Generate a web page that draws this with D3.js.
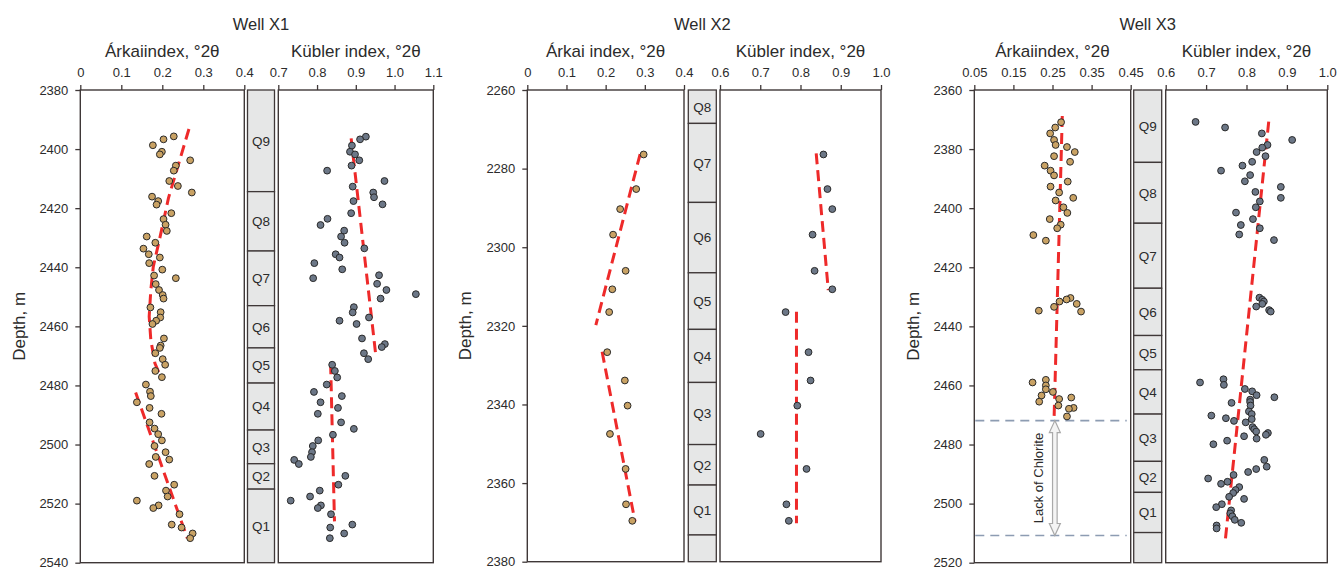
<!DOCTYPE html>
<html>
<head>
<meta charset="utf-8">
<script src="https://cdn.jsdelivr.net/npm/d3@7"></script>
<style>
  html, body { margin: 0; padding: 0; background: #ffffff; }
  svg { display: block; }
  text { font-family: "Liberation Sans", Arial, sans-serif; fill: #2b2b2b; }
</style>
</head>
<body>
<script>
// ---------- Well X1 ----------
const x1Arkai = [[2395.7,0.228],[2396.7,0.203],[2398.7,0.177],[2400.9,0.199],[2401.8,0.194],[2403.8,0.268],[2405.6,0.233],[2407.3,0.228],[2410.8,0.217],[2412.5,0.238],[2414.7,0.272],[2416.1,0.175],[2417.6,0.190],[2418.8,0.186],[2421.7,0.222],[2423.7,0.203],[2425.6,0.208],[2427.7,0.211],[2429.6,0.162],[2431.7,0.183],[2433.7,0.154],[2435.6,0.167],[2436.7,0.194],[2438.6,0.168],[2440.8,0.200],[2442.8,0.180],[2443.7,0.233],[2445.7,0.184],[2447.7,0.192],[2449.4,0.201],[2450.6,0.203],[2453.6,0.171],[2455.2,0.196],[2457.0,0.195],[2458.1,0.185],[2459.2,0.176],[2464.1,0.204],[2466.5,0.196],[2467.3,0.194],[2469.1,0.183],[2471.1,0.201],[2473.0,0.207],[2475.1,0.183],[2477.2,0.199],[2479.7,0.160],[2482.1,0.170],[2483.6,0.172],[2485.7,0.138],[2487.6,0.169],[2489.6,0.198],[2492.5,0.169],[2494.6,0.181],[2496.5,0.190],[2498.6,0.199],[2500.5,0.181],[2502.6,0.208],[2504.2,0.184],[2505.1,0.217],[2506.6,0.168],[2510.6,0.181],[2513.6,0.229],[2515.6,0.209],[2517.6,0.213],[2519.0,0.138],[2520.6,0.191],[2521.5,0.178],[2523.6,0.242],[2527.1,0.223],[2528.1,0.247],[2530.1,0.274],[2531.7,0.268]];
const x1Kubler = [[2395.8,0.926],[2396.7,0.911],[2398.8,0.890],[2400.9,0.885],[2401.8,0.898],[2403.8,0.909],[2405.6,0.889],[2407.3,0.826],[2410.8,0.974],[2412.7,0.892],[2414.7,0.945],[2416.3,0.947],[2417.6,0.894],[2418.7,0.969],[2421.7,0.888],[2423.6,0.827],[2425.7,0.809],[2427.6,0.870],[2429.6,0.862],[2431.7,0.871],[2433.6,0.922],[2435.6,0.848],[2436.7,0.858],[2438.6,0.793],[2440.7,0.865],[2442.7,0.960],[2443.7,0.790],[2445.6,0.955],[2447.7,0.979],[2449.1,1.055],[2450.6,0.964],[2453.5,0.895],[2455.3,0.892],[2457.0,0.934],[2458.1,0.858],[2459.2,0.902],[2464.1,0.916],[2466.0,0.975],[2467.0,0.967],[2469.1,0.921],[2471.1,0.932],[2473.0,0.839],[2475.1,0.846],[2477.3,0.852],[2479.7,0.825],[2482.2,0.792],[2483.6,0.864],[2485.7,0.809],[2487.6,0.854],[2489.6,0.802],[2492.5,0.862],[2494.7,0.895],[2496.7,0.841],[2498.6,0.803],[2500.5,0.789],[2502.6,0.787],[2504.2,0.784],[2505.2,0.741],[2506.6,0.753],[2510.6,0.873],[2513.6,0.855],[2515.6,0.807],[2517.6,0.782],[2519.0,0.732],[2520.6,0.810],[2521.5,0.802],[2523.6,0.836],[2527.1,0.891],[2528.1,0.834],[2530.1,0.870],[2531.7,0.833]];
const x1ArkaiTrend = [
  [[2393.2,0.265],[2416.6,0.215],[2430.7,0.193],[2439.8,0.178],[2447.7,0.172],[2456.7,0.168],[2464.6,0.172],[2472.5,0.182],[2478.0,0.199]],
  [[2482.4,0.135],[2531.7,0.261]]
];
const x1KublerTrend = [
  [[2396.4,0.888],[2469.1,0.951]],
  [[2472.5,0.835],[2526.0,0.845]]
];
const x1ZoneTops = [2380, 2414.4, 2434.5, 2453.0, 2467.3, 2479.2, 2495.1, 2506.5, 2515.1, 2540];
const x1ZoneNames = ["Q9","Q8","Q7","Q6","Q5","Q4","Q3","Q2","Q1"];
const x1DepthTicks = [2380, 2400, 2420, 2440, 2460, 2480, 2500, 2520, 2540];
const x1ArkaiTicks = [0, 0.1, 0.2, 0.3, 0.4];
const x1ArkaiTickLabels = ["0", "0.1", "0.2", "0.3", "0.4"];
const x1KublerTicks = [0.7, 0.8, 0.9, 1.0, 1.1];
const x1KublerTickLabels = ["0.7", "0.8", "0.9", "1.0", "1.1"];

// ---------- Well X2 ----------
const x2Arkai = [[2276.4,0.297],[2285.2,0.278],[2290.3,0.237],[2296.8,0.219],[2306.0,0.251],[2310.7,0.217],[2316.5,0.209],[2326.7,0.204],[2333.9,0.249],[2340.3,0.256],[2347.5,0.211],[2356.4,0.251],[2365.4,0.252],[2369.6,0.268]];
const x2Kubler = [[2276.4,0.857],[2285.2,0.867],[2290.3,0.879],[2296.8,0.830],[2306.0,0.835],[2310.7,0.879],[2316.5,0.763],[2326.7,0.820],[2333.9,0.825],[2340.3,0.792],[2347.5,0.701],[2356.4,0.815],[2365.4,0.765],[2369.6,0.771]];
const x2ArkaiTrend = [
  [[2276.3,0.288],[2319.8,0.175]],
  [[2326.6,0.191],[2369.8,0.275]]
];
const x2KublerTrend = [
  [[2276.1,0.839],[2310.9,0.869]],
  [[2316.4,0.790],[2370.2,0.790]]
];
const x2ZoneTops = [2260, 2268.5, 2288.6, 2306.5, 2320.9, 2334.4, 2350.2, 2360.5, 2373.2, 2380];
const x2ZoneNames = ["Q8","Q7","Q6","Q5","Q4","Q3","Q2","Q1",""];
const x2DepthTicks = [2260, 2280, 2300, 2320, 2340, 2360, 2380];
const x2ArkaiTicks = [0, 0.1, 0.2, 0.3, 0.4];
const x2ArkaiTickLabels = ["0", "0.1", "0.2", "0.3", "0.4"];
const x2KublerTicks = [0.6, 0.7, 0.8, 0.9, 1.0];
const x2KublerTickLabels = ["0.6", "0.7", "0.8", "0.9", "1.0"];

// ---------- Well X3 ----------
const x3Arkai = [[2370.9,0.272],[2372.7,0.257],[2374.7,0.244],[2376.9,0.254],[2378.6,0.258],[2379.3,0.287],[2381.0,0.307],[2382.4,0.254],[2384.3,0.295],[2385.6,0.230],[2387.3,0.245],[2388.9,0.254],[2391.0,0.289],[2392.7,0.245],[2394.7,0.267],[2396.5,0.303],[2397.4,0.258],[2399.7,0.278],[2401.6,0.288],[2403.7,0.243],[2405.6,0.271],[2406.8,0.262],[2409.1,0.201],[2411.0,0.233],[2430.4,0.296],[2430.9,0.286],[2431.6,0.268],[2432.4,0.312],[2433.4,0.254],[2434.7,0.215],[2435.0,0.323],[2458.1,0.233],[2459.0,0.199],[2460.0,0.233],[2461.3,0.233],[2462.2,0.251],[2463.4,0.222],[2464.1,0.298],[2464.6,0.267],[2465.5,0.216],[2466.8,0.265],[2467.6,0.304],[2467.9,0.292],[2470.5,0.287]];
const x3Kubler = [[2370.8,0.674],[2372.7,0.747],[2374.7,0.838],[2376.9,0.913],[2378.6,0.852],[2379.5,0.839],[2381.0,0.825],[2382.4,0.847],[2384.3,0.814],[2385.6,0.790],[2387.3,0.737],[2388.8,0.809],[2390.9,0.796],[2392.8,0.885],[2394.5,0.822],[2396.5,0.885],[2397.7,0.833],[2399.7,0.823],[2401.5,0.774],[2403.7,0.816],[2405.7,0.786],[2406.8,0.833],[2408.9,0.782],[2410.8,0.868],[2430.3,0.832],[2431.0,0.839],[2431.6,0.843],[2432.4,0.839],[2433.3,0.824],[2434.5,0.856],[2435.0,0.860],[2457.9,0.743],[2459.0,0.685],[2459.8,0.744],[2461.2,0.796],[2462.0,0.814],[2463.3,0.825],[2464.0,0.869],[2464.8,0.809],[2465.6,0.809],[2465.9,0.763],[2466.8,0.810],[2468.8,0.806],[2469.7,0.813],[2470.2,0.713],[2471.1,0.749],[2471.4,0.813],[2472.0,0.769],[2472.5,0.798],[2474.1,0.815],[2474.8,0.819],[2475.6,0.824],[2476.1,0.853],[2476.7,0.848],[2477.2,0.794],[2478.0,0.825],[2478.7,0.752],[2479.9,0.718],[2485.2,0.844],[2487.5,0.850],[2488.3,0.824],[2489.3,0.804],[2490.3,0.768],[2491.5,0.705],[2492.6,0.753],[2493.3,0.737],[2494.4,0.782],[2495.4,0.773],[2496.4,0.767],[2497.7,0.757],[2498.4,0.794],[2500.2,0.739],[2501.2,0.725],[2502.3,0.762],[2503.3,0.760],[2504.3,0.765],[2505.5,0.771],[2506.5,0.787],[2507.4,0.726],[2508.4,0.726]];
const x3ArkaiTrend = [
  [[2368.8,0.275],[2471.4,0.254]]
];
const x3KublerTrend = [
  [[2370.7,0.855],[2513.1,0.747]]
];
const x3ZoneTops = [2360, 2384.5, 2405.1, 2427.1, 2443.1, 2454.7, 2469.7, 2485.7, 2496.2, 2509.8, 2520];
const x3ZoneNames = ["Q9","Q8","Q7","Q6","Q5","Q4","Q3","Q2","Q1",""];
const x3DepthTicks = [2360, 2380, 2400, 2420, 2440, 2460, 2480, 2500, 2520];
const x3ArkaiTicks = [0.05, 0.15, 0.25, 0.35, 0.45];
const x3ArkaiTickLabels = ["0.05", "0.15", "0.25", "0.35", "0.45"];
const x3KublerTicks = [0.6, 0.7, 0.8, 0.9, 1.0];
const x3KublerTickLabels = ["0.6", "0.7", "0.8", "0.9", "1.0"];
// interval without chlorite in X3 (depth top, depth bottom)
const x3ChloriteGap = [2471.9, 2510.8];

// ---------- layout of the three well columns ----------
const wells = [
  { title: "Well X1", arkaiTitle: "Árkaiindex, °2θ",
    arkaiX: [80.3, 244.3], zoneX: [247.5, 274.5], kublerX: [278.3, 433.3], plotY: [90, 562.7], depthLabelX: 19,
    depthDomain: [2380, 2540], arkaiDomain: [0, 0.4], kublerDomain: [0.7, 1.1],
    arkai: x1Arkai, kubler: x1Kubler, arkaiTrend: x1ArkaiTrend, kublerTrend: x1KublerTrend,
    zoneTops: x1ZoneTops, zoneNames: x1ZoneNames, depthTicks: x1DepthTicks,
    arkaiTicks: x1ArkaiTicks, arkaiTickLabels: x1ArkaiTickLabels,
    kublerTicks: x1KublerTicks, kublerTickLabels: x1KublerTickLabels },
  { title: "Well X2", arkaiTitle: "Árkai index, °2θ",
    arkaiX: [527.3, 684], zoneX: [688.3, 716.3], kublerX: [720, 881], plotY: [90, 561.7], depthLabelX: 465,
    depthDomain: [2260, 2380], arkaiDomain: [0, 0.4], kublerDomain: [0.6, 1.0],
    arkai: x2Arkai, kubler: x2Kubler, arkaiTrend: x2ArkaiTrend, kublerTrend: x2KublerTrend,
    zoneTops: x2ZoneTops, zoneNames: x2ZoneNames, depthTicks: x2DepthTicks,
    arkaiTicks: x2ArkaiTicks, arkaiTickLabels: x2ArkaiTickLabels,
    kublerTicks: x2KublerTicks, kublerTickLabels: x2KublerTickLabels },
  { title: "Well X3", arkaiTitle: "Árkaiindex, °2θ",
    arkaiX: [974.3, 1130.7], zoneX: [1133.7, 1161.7], kublerX: [1165.7, 1327.3], plotY: [90, 562.7], depthLabelX: 912.7,
    depthDomain: [2360, 2520], arkaiDomain: [0.05, 0.45], kublerDomain: [0.6, 1.0],
    arkai: x3Arkai, kubler: x3Kubler, arkaiTrend: x3ArkaiTrend, kublerTrend: x3KublerTrend,
    zoneTops: x3ZoneTops, zoneNames: x3ZoneNames, depthTicks: x3DepthTicks,
    arkaiTicks: x3ArkaiTicks, arkaiTickLabels: x3ArkaiTickLabels,
    kublerTicks: x3KublerTicks, kublerTickLabels: x3KublerTickLabels,
    gap: x3ChloriteGap, gapArrowAt: 0.256, gapLabelAt: 0.213 }
];

const frameColor = "#3f3838";
const arkaiFill = "#c9a264";
const kublerFill = "#6c7787";
const trendColor = "#ee2a2a";

const svg = d3.select("body").append("svg")
  .attr("width", 1338).attr("height", 567);

wells.forEach(w => {
  const g = svg.append("g");
  const y = d3.scaleLinear().domain(w.depthDomain).range(w.plotY);
  const xa = d3.scaleLinear().domain(w.arkaiDomain).range(w.arkaiX);
  const xk = d3.scaleLinear().domain(w.kublerDomain).range(w.kublerX);
  const top = w.plotY[0], bottom = w.plotY[1];

  // titles
  g.append("text").attr("x", (w.zoneX[0] + w.zoneX[1]) / 2).attr("y", 30)
    .attr("text-anchor", "middle").attr("font-size", 16.5).text(w.title);
  g.append("text").attr("x", (w.arkaiX[0] + w.arkaiX[1]) / 2).attr("y", 56.5)
    .attr("text-anchor", "middle").attr("font-size", 17).text(w.arkaiTitle);
  g.append("text").attr("x", (w.kublerX[0] + w.kublerX[1]) / 2).attr("y", 56.5)
    .attr("text-anchor", "middle").attr("font-size", 17).text("Kübler index, °2θ");
  g.append("text")
    .attr("transform", `translate(${w.depthLabelX},${(top + bottom) / 2}) rotate(-90)`)
    .attr("text-anchor", "middle").attr("dy", "0.35em").attr("font-size", 17).text("Depth, m");

  // panel frames
  [w.arkaiX, w.kublerX].forEach(xr => {
    g.append("rect").attr("x", xr[0]).attr("y", top)
      .attr("width", xr[1] - xr[0]).attr("height", bottom - top)
      .attr("fill", "none").attr("stroke", frameColor).attr("stroke-width", 1.4);
  });

  // axes
  const styleAxis = sel => {
    sel.select(".domain").remove();
    sel.selectAll(".tick line").attr("stroke", frameColor).attr("stroke-width", 1.3);
    sel.selectAll(".tick text").attr("font-family", "Liberation Sans, Arial, sans-serif")
      .attr("font-size", 13).attr("fill", "#2b2b2b");
  };
  const fmt = (ticks, labels) => v => labels[ticks.findIndex(t => Math.abs(t - v) < 1e-9)];
  g.append("g").attr("transform", `translate(0,${top})`)
    .call(d3.axisTop(xa).tickValues(w.arkaiTicks).tickFormat(fmt(w.arkaiTicks, w.arkaiTickLabels))
      .tickSize(5).tickPadding(8))
    .call(styleAxis);
  g.append("g").attr("transform", `translate(0,${top})`)
    .call(d3.axisTop(xk).tickValues(w.kublerTicks).tickFormat(fmt(w.kublerTicks, w.kublerTickLabels))
      .tickSize(5).tickPadding(8))
    .call(styleAxis);
  g.append("g").attr("transform", `translate(${w.arkaiX[0]},0)`)
    .call(d3.axisLeft(y).tickValues(w.depthTicks).tickFormat(d3.format("d"))
      .tickSize(5).tickPadding(7))
    .call(styleAxis);

  // stratigraphic zones column
  const zones = w.zoneNames.map((name, i) => ({ name, d0: w.zoneTops[i], d1: w.zoneTops[i + 1] }));
  const zg = g.append("g");
  zg.selectAll("rect").data(zones).join("rect")
    .attr("x", w.zoneX[0]).attr("y", d => y(d.d0))
    .attr("width", w.zoneX[1] - w.zoneX[0]).attr("height", d => y(d.d1) - y(d.d0))
    .attr("fill", "#e6e7e7").attr("stroke", frameColor).attr("stroke-width", 1.3);
  zg.selectAll("text").data(zones).join("text")
    .attr("x", (w.zoneX[0] + w.zoneX[1]) / 2).attr("y", d => (y(d.d0) + y(d.d1)) / 2)
    .attr("dy", "0.36em").attr("text-anchor", "middle").attr("font-size", 13.5)
    .attr("fill", "#333").text(d => d.name);

  // chlorite gap markers
  if (w.gap) {
    const gg = g.append("g");
    gg.selectAll("line").data(w.gap).join("line")
      .attr("x1", xa.range()[0] + 1).attr("x2", xa.range()[1] - 4)
      .attr("y1", d => y(d)).attr("y2", d => y(d))
      .attr("stroke", "#8d9cb2").attr("stroke-width", 1.6).attr("stroke-dasharray", "9,6");
    const ax = xa(w.gapArrowAt), ya = y(w.gap[0]), yb = y(w.gap[1]);
    const hw = 5.5, sw = 2.3, hh = 12;
    const arrow = d3.path();
    arrow.moveTo(ax, ya);
    arrow.lineTo(ax + hw, ya + hh); arrow.lineTo(ax + sw, ya + hh);
    arrow.lineTo(ax + sw, yb - hh); arrow.lineTo(ax + hw, yb - hh);
    arrow.lineTo(ax, yb);
    arrow.lineTo(ax - hw, yb - hh); arrow.lineTo(ax - sw, yb - hh);
    arrow.lineTo(ax - sw, ya + hh); arrow.lineTo(ax - hw, ya + hh);
    arrow.closePath();
    gg.append("path").attr("d", arrow.toString())
      .attr("fill", "#f4f4f4").attr("stroke", "#a9a9a9").attr("stroke-width", 1.2);
    gg.append("text")
      .attr("transform", `translate(${xa(w.gapLabelAt)},${(ya + yb) / 2}) rotate(-90)`)
      .attr("text-anchor", "middle").attr("dy", "0.35em").attr("font-size", 13)
      .attr("fill", "#333").text("Lack of Chlorite");
  }

  // trend lines
  const lineA = d3.line().x(d => xa(d[1])).y(d => y(d[0]));
  const lineK = d3.line().x(d => xk(d[1])).y(d => y(d[0]));
  const tg = g.append("g").attr("fill", "none").attr("stroke", trendColor)
    .attr("stroke-width", 3).attr("stroke-dasharray", "11,6");
  tg.selectAll(".ta").data(w.arkaiTrend).join("path").attr("class", "ta").attr("d", lineA);
  tg.selectAll(".tk").data(w.kublerTrend).join("path").attr("class", "tk").attr("d", lineK);

  // measurements
  g.append("g").selectAll("circle").data(w.arkai).join("circle")
    .attr("cx", d => xa(d[1])).attr("cy", d => y(d[0])).attr("r", 3.4)
    .attr("fill", arkaiFill).attr("stroke", "#2a2a2a").attr("stroke-width", 1);
  g.append("g").selectAll("circle").data(w.kubler).join("circle")
    .attr("cx", d => xk(d[1])).attr("cy", d => y(d[0])).attr("r", 3.4)
    .attr("fill", kublerFill).attr("stroke", "#2a2a2a").attr("stroke-width", 1);
});
</script>
</body>
</html>
